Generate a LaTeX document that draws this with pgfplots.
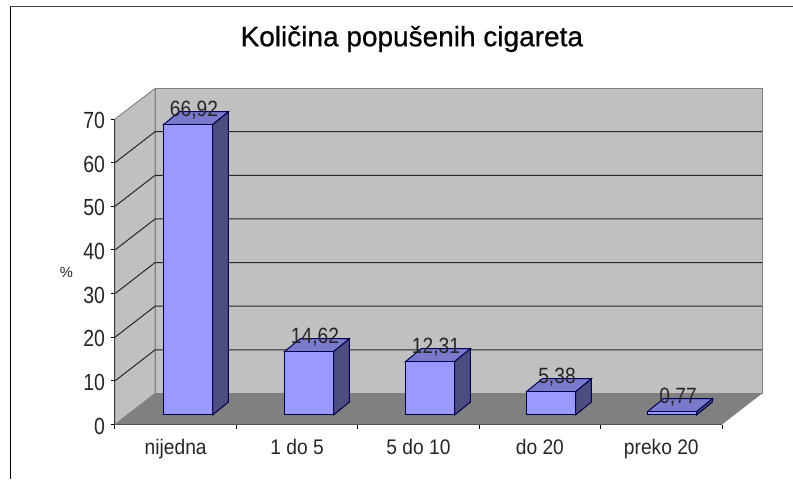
\documentclass[border=0pt]{standalone}
\usepackage{fontspec}
\setmainfont{Liberation Sans}
\newfontfamily\titlefont[FakeBold=0.6]{Liberation Sans}
\usepackage{pgfplots}
\usepackage{pgfplotstable}
\pgfplotsset{compat=1.18}

\definecolor{wall}{HTML}{C0C0C0}
\definecolor{floorc}{HTML}{808080}
\definecolor{barfront}{HTML}{9999FF}
\definecolor{barside}{HTML}{4D4D80}
\definecolor{bartop}{HTML}{7A7ACC}
\definecolor{barline}{HTML}{00004D}
\definecolor{txt}{HTML}{262626}

\pgfplotstableread{
x   v
0.5 66.92
1.5 14.62
2.5 12.31
3.5 5.38
4.5 0.77
}\values

\begin{document}
\begin{tikzpicture}
\path[use as bounding box] (0,0) rectangle (594.75pt,359.25pt);
% picture frame, left and top only
\draw[black,line width=1.1pt] (7.7pt,0pt) -- (7.7pt,354.5pt);
\draw[black!75,line width=0.9pt] (7.7pt,354.6pt) -- (594.75pt,354.6pt);

% walls, floor, ticks
\begin{axis}[
  at={(86.25pt,40.875pt)}, anchor=origin,
  scale only axis, width=455.25pt, height=229.1pt,
  xmin=0, xmax=5, ymin=0, ymax=70,
  clip=false,
  axis x line*=bottom, axis y line*=left,
  axis line style={-,black,line width=0.75pt},
  ytick={0,10,...,70},
  xtick={0.5,1.5,2.5,3.5,4.5},
  xticklabels={nijedna,1 do 5,5 do 10,do 20,preko 20},
  minor xtick={0,1,2,3,4,5},
  tick align=outside,
  major x tick style={draw=none},
  minor x tick style={black,line width=0.75pt},
  y tick style={black,line width=0.75pt},
  minor tick length=3pt,
  major tick length=3pt,
  /pgf/number format/assume math mode=true,
  x tick label style={font=\fontsize{14.4}{16}\selectfont,text=txt,text height=11pt,text depth=3pt,yshift=-3.5pt,yscale=1.1},
  y tick label style={font=\fontsize{14.6}{17}\selectfont,text=txt,xshift=-1pt,yshift=-1.2pt,yscale=1.2},
  title={\titlefont Količina popušenih cigareta},
  title style={at={(0.489,1.236)},anchor=center,font=\fontsize{21}{24}\selectfont,text=black},
  ylabel={\%},
  ylabel style={rotate=-90,at={(axis description cs:-0.08,0.499)},anchor=center,font=\fontsize{11}{13}\selectfont,text=txt},
]
\addplot[fill=wall,draw=floorc,line width=0.7pt] coordinates {(0.33,7.1)(5.33,7.1)(5.33,77)(0.33,77)} -- cycle;
\addplot[fill=wall,draw=floorc,line width=0.7pt] coordinates {(0,0)(0.33,7.1)(0.33,77)(0,70)} -- cycle;
\addplot[fill=floorc,draw=none] coordinates {(0,0)(5,0)(5.33,7.1)(0.33,7.1)} -- cycle;
% gridlines on the back and side walls
\addplot[black!85,line width=0.75pt] coordinates {(0,10)(0.33,17.1)(5.33,17.1)};
\addplot[black!85,line width=0.75pt] coordinates {(0,20)(0.33,27.1)(5.33,27.1)};
\addplot[black!85,line width=0.75pt] coordinates {(0,30)(0.33,37.1)(5.33,37.1)};
\addplot[black!85,line width=0.75pt] coordinates {(0,40)(0.33,47.1)(5.33,47.1)};
\addplot[black!85,line width=0.75pt] coordinates {(0,50)(0.33,57.1)(5.33,57.1)};
\addplot[black!85,line width=0.75pt] coordinates {(0,60)(0.33,67.1)(5.33,67.1)};
\end{axis}

% bars stand a little way in from the front edge of the floor
\begin{axis}[
  at={(95.625pt,48pt)}, anchor=origin,
  scale only axis, width=453.75pt, height=227.85pt,
  xmin=0, xmax=5, ymin=0, ymax=70,
  clip=false, axis lines=none,
]
% side faces
\addplot[fill=barside,draw=barline,line width=0.75pt] coordinates {(0.7025,0)(0.8345,3)(0.8345,69.92)(0.7025,66.92)} -- cycle;
\addplot[fill=barside,draw=barline,line width=0.75pt] coordinates {(1.7025,0)(1.8345,3)(1.8345,17.62)(1.7025,14.62)} -- cycle;
\addplot[fill=barside,draw=barline,line width=0.75pt] coordinates {(2.7025,0)(2.8345,3)(2.8345,15.31)(2.7025,12.31)} -- cycle;
\addplot[fill=barside,draw=barline,line width=0.75pt] coordinates {(3.7025,0)(3.8345,3)(3.8345,8.38)(3.7025,5.38)} -- cycle;
\addplot[fill=barside,draw=barline,line width=0.75pt] coordinates {(4.7025,0)(4.8345,3)(4.8345,3.77)(4.7025,0.77)} -- cycle;
% top faces
\addplot[fill=bartop,draw=barline,line width=0.75pt] coordinates {(0.2975,66.92)(0.4295,69.92)(0.8345,69.92)(0.7025,66.92)} -- cycle;
\addplot[fill=bartop,draw=barline,line width=0.75pt] coordinates {(1.2975,14.62)(1.4295,17.62)(1.8345,17.62)(1.7025,14.62)} -- cycle;
\addplot[fill=bartop,draw=barline,line width=0.75pt] coordinates {(2.2975,12.31)(2.4295,15.31)(2.8345,15.31)(2.7025,12.31)} -- cycle;
\addplot[fill=bartop,draw=barline,line width=0.75pt] coordinates {(3.2975,5.38)(3.4295,8.38)(3.8345,8.38)(3.7025,5.38)} -- cycle;
\addplot[fill=bartop,draw=barline,line width=0.75pt] coordinates {(4.2975,0.77)(4.4295,3.77)(4.8345,3.77)(4.7025,0.77)} -- cycle;
% front faces and value labels
\addplot[ybar,bar width=0.405,bar shift=0pt,fill=barfront,draw=barline,line width=0.75pt,
  point meta=y,
  nodes near coords,
  nodes near coords style={
    anchor=center,xshift=4.5pt,yshift=10.5pt,yscale=1.15,
    font=\fontsize{14.4}{16}\selectfont,text=txt,
    /pgf/number format/.cd,fixed,fixed zerofill,precision=2,use comma,assume math mode=true},
] table[x=x,y=v] {\values};
\end{axis}
\end{tikzpicture}
\end{document}
